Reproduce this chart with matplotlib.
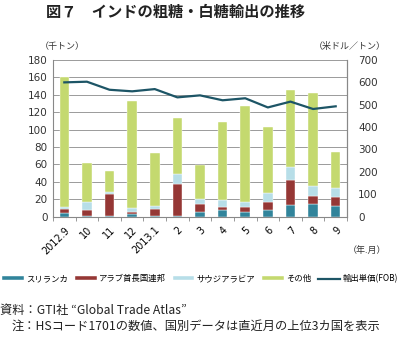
import matplotlib.pyplot as plt
import numpy as np

plt.rcParams['font.family'] = ['Noto Sans CJK JP', 'DejaVu Sans']

# data (thousand tons / USD per ton)
months = ['2012.9', '10', '11', '12', '2013.1', '2', '3', '4', '5', '6', '7', '8', '9']
sri_lanka = [4.6, 0.8, 0.6, 3.0, 0.5, 0.3, 5.0, 7.7, 5.0, 7.7, 13.4, 14.2, 12.3]
uae = [4.4, 7.0, 25.5, 2.0, 8.3, 37.7, 9.5, 3.8, 6.1, 8.8, 28.7, 9.9, 10.7]
saudi = [2.5, 9.5, 2.3, 4.5, 3.8, 11.0, 5.4, 8.0, 5.7, 10.7, 14.6, 11.1, 9.9]
others = [148.5, 44.0, 23.7, 123.5, 60.2, 64.7, 39.5, 88.9, 110.2, 76.2, 88.8, 107.3, 41.0]
fob_price = [600, 603, 567, 560, 570, 533, 542, 520, 529, 488, 514, 481, 493]

c_sri = '#31849b'
c_uae = '#953735'
c_sau = '#b7dee8'
c_oth = '#c4d96f'
c_line = '#1d5566'

fig = plt.figure(figsize=(4, 3.39), dpi=100)
ax = fig.add_axes([0.1325, 0.361, 0.735, 0.462])
x = np.arange(len(months))
w = 0.42

b1 = np.array(sri_lanka)
b2 = b1 + np.array(uae)
b3 = b2 + np.array(saudi)
ax.bar(x, sri_lanka, w, color=c_sri, edgecolor='white', linewidth=0.3, zorder=2, label='スリランカ')
ax.bar(x, uae, w, bottom=b1, color=c_uae, edgecolor='white', linewidth=0.3, zorder=2, label='アラブ首長国連邦')
ax.bar(x, saudi, w, bottom=b2, color=c_sau, edgecolor='white', linewidth=0.3, zorder=2, label='サウジアラビア')
ax.bar(x, others, w, bottom=b3, color=c_oth, edgecolor='white', linewidth=0.3, zorder=2, label='その他')

ax.set_xlim(-0.5, len(months) - 0.5)
ax.set_ylim(0, 180)
ax.set_yticks(np.arange(0, 181, 20))
ax.grid(axis='y', color='#9a9a9a', linewidth=0.7, zorder=0)
ax.set_xticks(x)
ax.set_xticklabels(months, rotation=45, ha='right', rotation_mode='anchor', fontsize=7,
                   family='DejaVu Sans')
ax.set_xticks(np.arange(-0.5, len(months), 1), minor=True)
ax.tick_params(axis='x', which='major', length=0, pad=6)
ax.tick_params(axis='x', which='minor', length=3, color='#888888')
ax.tick_params(axis='y', length=0, labelsize=7.5, pad=4, colors='#333333')
ax.spines['top'].set_visible(False)
for s in ['left', 'right', 'bottom']:
    ax.spines[s].set_color('#888888')
    ax.spines[s].set_linewidth(0.8)
for lbl in ax.get_yticklabels():
    lbl.set_family('DejaVu Sans')

ax2 = ax.twinx()
ax2.plot(x, fob_price, color=c_line, linewidth=1.6, zorder=3, label='輸出単価(FOB)')
ax2.set_ylim(0, 700)
ax2.set_yticks(np.arange(0, 701, 100))
ax2.tick_params(axis='y', length=0, labelsize=7.5, pad=8, colors='#333333')
for lbl in ax2.get_yticklabels():
    lbl.set_family('DejaVu Sans')
for s in ['top', 'left', 'bottom']:
    ax2.spines[s].set_visible(False)
ax2.spines['right'].set_color('#888888')
ax2.spines['right'].set_linewidth(0.8)

# texts
fig.text(0.115, 0.965, '図７　インドの粗糖・白糖輸出の推移', fontsize=11, fontweight='bold',
         va='center', ha='left', color='#222222')
fig.text(0.1, 0.862, '（千トン）', fontsize=6.5, va='center', ha='left', color='#333333')
fig.text(0.965, 0.862, '（米ドル／トン）', fontsize=6.5, va='center', ha='right', color='#333333')
fig.text(0.965, 0.26, '（年.月）', fontsize=6.5, va='center', ha='right', color='#333333')

h1, l1 = ax.get_legend_handles_labels()
h2, l2 = ax2.get_legend_handles_labels()
fig.legend(h1 + h2, l1 + l2, loc='center', bbox_to_anchor=(0.5, 0.178), ncol=5,
           frameon=False, fontsize=6, handlelength=2.6, handleheight=0.45,
           handletextpad=0.3, columnspacing=0.8)

fig.text(0.0, 0.085, '資料：GTI社 “Global Trade Atlas”', fontsize=8.8, va='center', ha='left',
         color='#222222')
fig.text(0.03, 0.037, '注：HSコード1701の数値、国別データは直近月の上位3カ国を表示', fontsize=8.8,
         va='center', ha='left', color='#222222')

fig.savefig('out.png', dpi=100)
